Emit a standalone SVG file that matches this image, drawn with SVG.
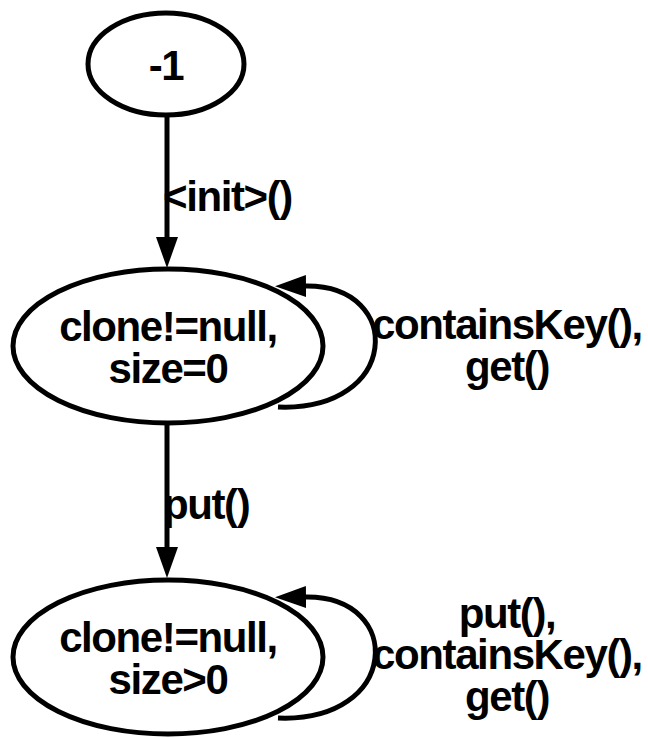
<svg xmlns="http://www.w3.org/2000/svg" width="648" height="738" viewBox="0 0 648 738">
  <style>
    .node { fill: #fff; stroke: #000; stroke-width: 5; }
    .edge { fill: none; stroke: #000; stroke-width: 5; }
    text { font-family: "Liberation Sans", Arial, sans-serif; font-weight: bold; font-size: 42px; letter-spacing: -1.4px; fill: #000; }
    .c { text-anchor: middle; }
  </style>
  <defs>
    <marker id="arrow" markerUnits="userSpaceOnUse" markerWidth="32" markerHeight="24" refX="0" refY="12" orient="auto" viewBox="0 0 32 24">
      <path d="M0,1 L31,12 L0,23 z" fill="#000"/>
    </marker>
  </defs>

  <!-- connectors -->
  <g id="edges">
    <path class="edge" d="M167,115 L167,237" marker-end="url(#arrow)"/>
    <text x="163" y="211">&lt;init&gt;()</text>

    <path class="edge" d="M278,407 C400,412 405,285 306,286" marker-end="url(#arrow)"/>
    <text class="c" x="507" y="339">containsKey(),</text>
    <text class="c" x="507" y="381">get()</text>

    <path class="edge" d="M167,423 L167,547" marker-end="url(#arrow)"/>
    <text x="163" y="519">put()</text>

    <path class="edge" d="M278,718 C400,723 405,596 306,597" marker-end="url(#arrow)"/>
    <text class="c" x="507" y="628">put(),</text>
    <text class="c" x="507" y="669">containsKey(),</text>
    <text class="c" x="507" y="711">get()</text>
  </g>

  <g id="s_init">
    <ellipse class="node" cx="166" cy="64" rx="78" ry="51"/>
    <text class="c" x="166" y="80">-1</text>
  </g>

  <g id="s_empty">
    <ellipse class="node" cx="168" cy="346" rx="155" ry="77"/>
    <text class="c" x="168" y="341">clone!=null,</text>
    <text class="c" x="168" y="383">size=0</text>
  </g>

  <g id="s_nonempty">
    <ellipse class="node" cx="168" cy="657" rx="155" ry="77"/>
    <text class="c" x="168" y="652">clone!=null,</text>
    <text class="c" x="168" y="694">size&gt;0</text>
  </g>
</svg>
